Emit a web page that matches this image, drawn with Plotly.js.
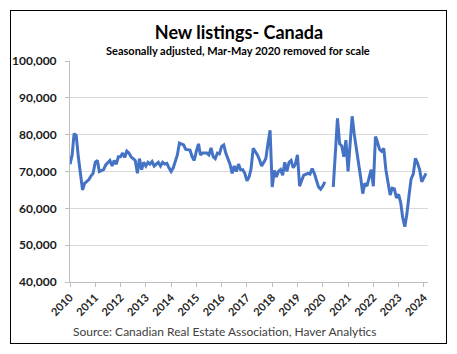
<!DOCTYPE html>
<html>
<head>
<meta charset="utf-8">
<script src="https://cdn.plot.ly/plotly-3.0.1.min.js"></script>
<style>
html,body{margin:0;padding:0;background:#fff;}
#wrap{position:relative;width:457px;height:354px;}
#chart{width:457px;height:354px;}
#frame{position:absolute;left:10px;top:10px;width:435px;height:332px;border:1.5px solid #000;pointer-events:none;}
</style>
</head>
<body>
<div id="wrap"><div id="chart"></div><div id="frame"></div></div>
<script>
// Monthly series start (Jan 2010), one value per month; null = removed (Mar-May 2020)
const startYear = 2010;
const startMonth = 1;
const v2010 = [72000, 74500, 80300, 79800, 74000, 68500, 65000, 66800, 67300, 67800, 68800, 69500];
const v2011 = [72500, 73000, 70000, 70200, 70500, 71800, 72500, 73000, 71500, 73000, 72000, 74000];
const v2012 = [74000, 75000, 73800, 75500, 75000, 74000, 73500, 73000, 69500, 73500, 70500, 72500];
const v2013 = [71500, 72500, 72000, 72700, 71500, 72000, 72500, 71500, 72500, 72000, 72200, 71000];
const v2014 = [70000, 71000, 72500, 74500, 77700, 77500, 77200, 76000, 76000, 75800, 74000, 73000];
const v2015 = [75500, 77500, 74500, 75000, 75000, 75000, 74500, 76400, 74000, 73500, 75000, 74800];
const v2016 = [76800, 77200, 75000, 73500, 72000, 69500, 71500, 70000, 72000, 70500, 70500, 69500];
const v2017 = [67500, 68500, 70700, 76300, 75500, 74500, 73200, 71500, 72500, 73500, 77700, 81200];
const v2018 = [65800, 70300, 68500, 70000, 70500, 69000, 72500, 70000, 72500, 73000, 71000, 72000];
const v2019 = [74500, 66000, 67500, 69000, 69200, 69500, 69300, 70800, 69500, 67500, 65800, 65200];
const v2020 = [66000, 67200, null, null, null, 65800, 75000, 84400, 77500, 77000, 74000, 78500];
const v2021 = [70000, 77000, 85000, 80000, 76500, 72500, 68500, 64000, 66800, 66000, 68600, 70500];
const v2022 = [66000, 79500, 78000, 76000, 75500, 76300, 70500, 66800, 63600, 65500, 65300, 62800];
const v2023 = [63800, 61500, 57500, 55000, 58500, 63500, 68000, 69300, 73600, 72300, 70500, 67200];
const v2024 = [68500, 69500];

const newListings = [].concat(v2010, v2011, v2012, v2013, v2014, v2015, v2016, v2017,
  v2018, v2019, v2020, v2021, v2022, v2023, v2024);

const months = newListings.map((_, i) => {
  const m0 = (startMonth - 1) + i;
  const y = startYear + Math.floor(m0 / 12);
  const m = (m0 % 12) + 1;
  return y + '-' + String(m).padStart(2, '0') + '-01';
});

const titleText = 'New listings- Canada';
const subtitleText = 'Seasonally adjusted, Mar-May 2020 removed for scale';
const sourceText = 'Source: Canadian Real Estate Association, Haver Analytics';

const FONT = 'Lato, "Open Sans", sans-serif';

const trace = {
  x: months,
  y: newListings,
  type: 'scatter',
  mode: 'lines',
  line: {color: '#4472C4', width: 3},
  connectgaps: false,
  hoverinfo: 'skip'
};

const layout = {
  width: 457,
  height: 354,
  margin: {l: 70, r: 29, t: 61, b: 72},
  paper_bgcolor: '#ffffff',
  plot_bgcolor: '#ffffff',
  showlegend: false,
  font: {family: FONT, color: '#262626'},
  title: {
    text: titleText,
    font: {family: FONT, size: 18, weight: 'bold', color: '#000'},
    xref: 'container', yref: 'container',
    x: 239 / 457, y: 1 - 33 / 354,
    xanchor: 'center', yanchor: 'middle'
  },
  xaxis: {
    type: 'date',
    range: ['2010-01-01', '2024-03-01'],
    tick0: '2010-01-01',
    dtick: 'M12',
    tickformat: '%Y',
    tickangle: -45,
    tickfont: {family: FONT, size: 11, weight: 'bold', color: '#262626'},
    showgrid: false,
    zeroline: false,
    showline: true,
    linecolor: '#bfbfbf',
    linewidth: 1,
    ticks: 'outside',
    ticklen: 4,
    tickcolor: '#bfbfbf'
  },
  yaxis: {
    range: [40000, 100000],
    tick0: 40000,
    dtick: 10000,
    tickformat: ',d',
    tickfont: {family: FONT, size: 12, weight: 'bold', color: '#1a1a1a'},
    ticklabelstandoff: 6,
    showgrid: true,
    gridcolor: '#d9d9d9',
    gridwidth: 1,
    zeroline: false,
    showline: true,
    linecolor: '#bfbfbf',
    linewidth: 1,
    ticks: 'outside',
    ticklen: 4,
    tickcolor: '#bfbfbf'
  },
  annotations: [
    {
      text: subtitleText,
      xref: 'paper', yref: 'paper',
      x: (238 - 70) / 358, y: (282 - 51) / 221,
      xanchor: 'center', yanchor: 'middle',
      showarrow: false,
      font: {family: FONT, size: 11, weight: 'bold', color: '#000'}
    },
    {
      text: sourceText,
      xref: 'paper', yref: 'paper',
      x: (225 - 70) / 358, y: (282 - 331) / 221,
      xanchor: 'center', yanchor: 'middle',
      showarrow: false,
      font: {family: FONT, size: 12, color: '#404040'}
    }
  ]
};

Plotly.newPlot('chart', [trace], layout, {displayModeBar: false, staticPlot: true});
</script>
</body>
</html>
